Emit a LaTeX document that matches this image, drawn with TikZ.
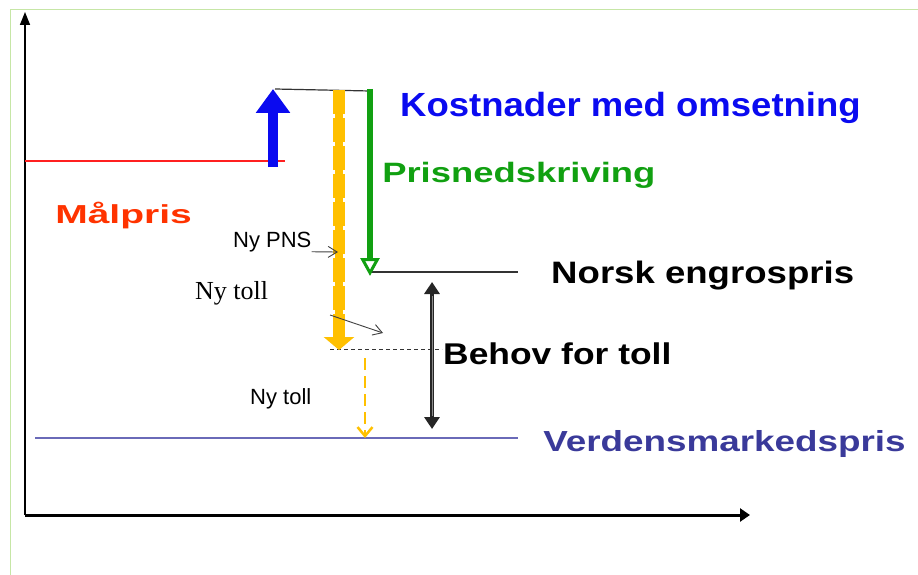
\documentclass[tikz,border=0pt]{standalone}
\usepackage{fontspec}
\setmainfont{Liberation Serif}
\setsansfont{Liberation Sans}
\usetikzlibrary{arrows.meta}

\definecolor{malrod}{HTML}{FF3300}
\definecolor{malstrek}{HTML}{FF2020}
\definecolor{kostblaa}{HTML}{0A0AF0}
\definecolor{prisgronn}{HTML}{11A011}
\definecolor{verdensblaa}{HTML}{3A3A9A}
\definecolor{linjeblaa}{HTML}{6A6AB8}
\definecolor{pnsgul}{HTML}{FFC000}
\definecolor{rammegronn}{HTML}{C6E6A6}

\tikzset{
  lbl/.style 2 args={font=\sffamily\bfseries\fontsize{#1}{#1}\selectfont, xscale=#2, transform shape, anchor=base west, inner sep=0pt},
  smalltxt/.style={font=\sffamily\fontsize{22}{22}\selectfont, anchor=base west, inner sep=0pt},
  pil/.style={-{Straight Barb[length=9pt,width=11pt]}, line width=0.9pt, black!75},
}

\begin{document}
\begin{tikzpicture}[x=1pt, y=-1pt]
				\useasboundingbox (0,0) rectangle (918,575);
				\draw[rammegronn, line width=1pt] (10,575) -- (10,10) -- (918,10);
				
				% akser
				\coordinate (O) at (25,515);
				\coordinate (Y) at (25,12);
				\coordinate (X) at (750,515);
				\draw[line width=1.5pt, -{Triangle[length=13pt,width=10pt]}] (O) -- (Y);
				\draw[line width=3pt, -{Triangle[length=10pt,width=13pt]}] (O) -- (X);
				
				% prisnivaa
				\draw[malstrek, line width=1.2pt] (25,161) -- (285,161);
				\draw[black!80, line width=1.2pt] (275,89) -- (370,91);
				\draw[black!80, line width=1.2pt] (370,272) -- (518,272);
				\draw[linjeblaa, line width=1.5pt] (35,438) -- (518,438);
				\draw[black!80, line width=0.8pt, dash pattern=on 4pt off 3pt] (330,349) -- (442,349);
				
				% piler
				\draw[kostblaa, line width=10pt, -{Triangle[length=24pt,width=33pt]}] (273,167) -- (273,89);
				\draw[pnsgul, line width=8pt, -{Triangle[length=13pt,width=30pt]}] (339,90) -- (339,350);
				\draw[pnsgul, line width=12pt, dash pattern=on 24pt off 4pt] (339,90) -- (339,337);
				\draw[prisgronn, line width=6pt, -{Triangle[length=18pt,width=19pt,fill=white,line width=3pt]}] (370,89) -- (370,276);
				\draw[pnsgul, line width=2.5pt, dash pattern=on 12pt off 6pt, -{Straight Barb[length=9pt,width=15pt]}] (365,358) -- (365,438);
				\draw[black!85, line width=3.5pt, {Triangle[length=12pt,width=15pt]}-{Triangle[length=12pt,width=15pt]}] (432,282) -- (432,429);
				\draw[black!45, line width=1pt] (432,296) -- (432,416);
				
				% tekst
				\node[lbl={33.5}{1.09}, text=kostblaa] (kost) at (400,117) {Kostnader med omsetning};
				\node[lbl={28}{1.3}, text=prisgronn] (prisned) at (382,182) {Prisnedskriving};
				\node[lbl={26}{1.5}, text=malrod] (malpris) at (55,223) {Målpris};
				\node[lbl={31}{1.18}] (norsk) at (551,283) {Norsk engrospris};
				\node[lbl={30}{1.18}] (behov) at (443,364) {Behov for toll};
				\node[lbl={29}{1.27}, text=verdensblaa] (verden) at (543,451) {Verdensmarkedspris};
				\node[smalltxt] (nypns) at (233,247) {Ny PNS};
				\node[font=\rmfamily\fontsize{26}{26}\selectfont, anchor=base west, inner sep=0pt] (nytoll) at (195,299) {Ny toll};
				\node[smalltxt] (nytollb) at (250,404) {Ny toll};
				
				\coordinate (pnsend) at (338,252);
				\coordinate (tollstart) at (330,315);
				\coordinate (tollend) at (383,333);
				\draw[pil] (nypns.south east) -- (pnsend);
				\draw[pil] (tollstart) -- (tollend);
			\end{tikzpicture}
\end{document}
